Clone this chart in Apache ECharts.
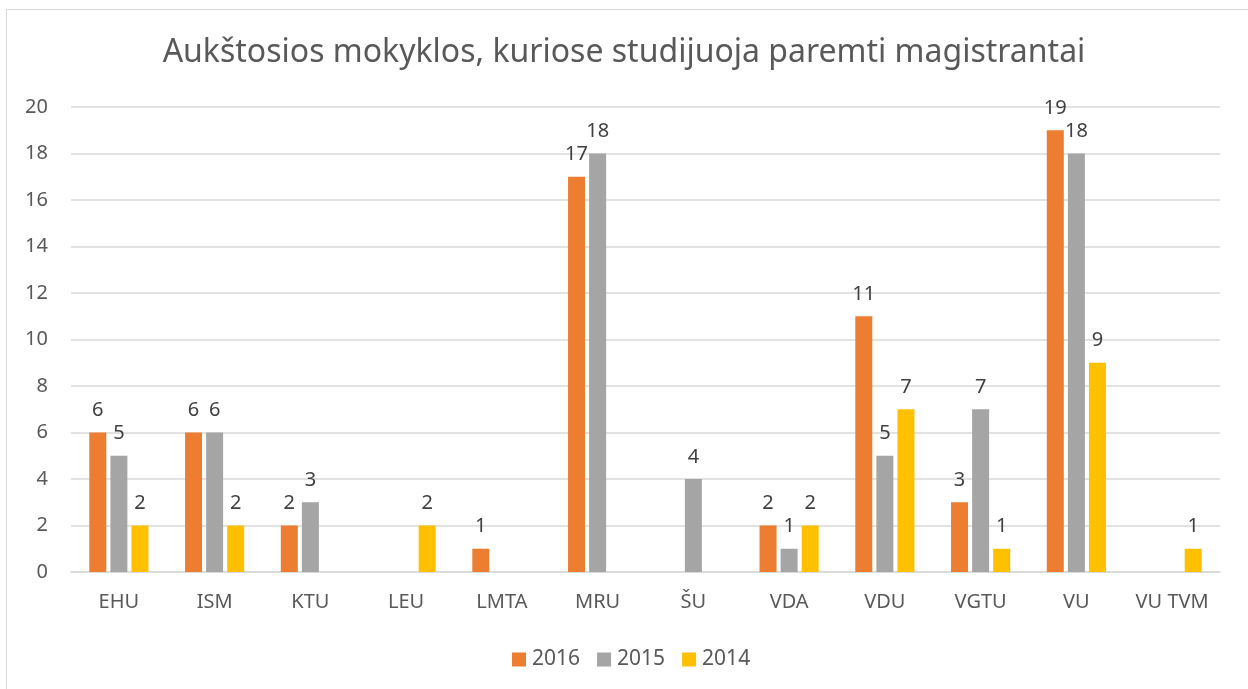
<!DOCTYPE html>
<html>
<head>
<meta charset="utf-8">
<script src="https://cdn.jsdelivr.net/npm/echarts@6/dist/echarts.min.js"></script>
<style>
  html, body { margin: 0; padding: 0; background: #fff; }
  #frame {
    position: absolute; left: 6px; top: 9px; width: 1300px; height: 720px;
    border: 1px solid #d9d9d9; box-sizing: border-box;
  }
  #chart { position: absolute; left: 0; top: 0; width: 1248px; height: 689px; }
</style>
</head>
<body>
<div id="frame"></div>
<div id="chart"></div>
<script>
// duomenys
const categories = ['EHU', 'ISM', 'KTU', 'LEU', 'LMTA', 'MRU', 'ŠU', 'VDA', 'VDU', 'VGTU', 'VU', 'VU TVM']
const values2016 = [6, 6, 2, null, 1, 17, null, 2, 11, 3, 19, null]
const values2015 = [5, 6, 3, null, null, 18, 4, 1, 5, 7, 18, null]
const values2014 = [2, 2, null, 2, null, null, null, 2, 7, 1, 9, 1]
const yTicks = { min: 0, max: 20, interval: 2 }

const font = '"Noto Sans", "DejaVu Sans", sans-serif'

const makeSeries = (name, data, color) => ({
  name,
  type: 'bar',
  data,
  barWidth: 17,
  barGap: '24%',
  itemStyle: { color },
  label: {
    show: true,
    position: 'top',
    distance: 12,
    color: '#404040',
    fontFamily: font,
    fontSize: 20
  }
})

const chart = echarts.init(document.getElementById('chart'))
chart.setOption({
  animation: false,
  title: {
    text: 'Aukštosios mokyklos, kuriose studijuoja paremti magistrantai',
    left: 'center',
    top: 32,
    textStyle: { color: '#595959', fontFamily: font, fontSize: 32, fontWeight: 'normal' }
  },
  legend: {
    top: 644,
    left: 507,
    icon: 'rect',
    itemWidth: 14,
    itemHeight: 14,
    itemGap: 17,
    textStyle: { color: '#595959', fontFamily: font, fontSize: 21, padding: [0, 0, 0, 1] },
    data: ['2016', '2015', '2014']
  },
  grid: { left: 71, right: 28, top: 107, bottom: 117 },
  xAxis: {
    type: 'category',
    data: categories,
    axisLine: { lineStyle: { color: '#d9d9d9', width: 1.5 } },
    axisTick: { show: false },
    axisLabel: { color: '#595959', fontFamily: font, fontSize: 20, margin: 20 }
  },
  yAxis: {
    type: 'value',
    min: yTicks.min,
    max: yTicks.max,
    interval: yTicks.interval,
    axisLine: { show: false },
    axisTick: { show: false },
    axisLabel: { color: '#595959', fontFamily: font, fontSize: 20, margin: 23 },
    splitLine: { lineStyle: { color: '#d9d9d9', width: 1.5 } }
  },
  series: [
    makeSeries('2016', values2016, '#ed7d31'),
    makeSeries('2015', values2015, '#a5a5a5'),
    makeSeries('2014', values2014, '#ffc000')
  ]
})
</script>
</body>
</html>
